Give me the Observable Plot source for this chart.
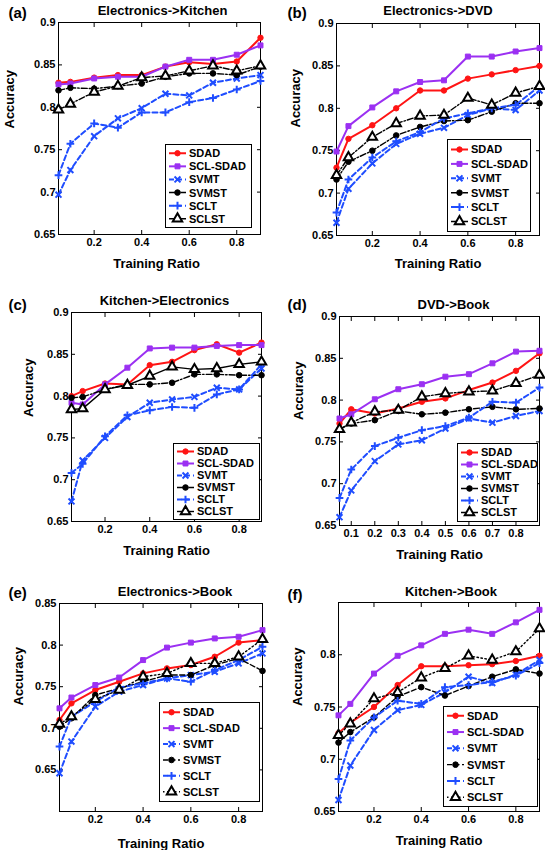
<!DOCTYPE html>
<html><head><meta charset="utf-8">
<script src="https://cdn.jsdelivr.net/npm/d3@7"></script>
<script src="https://cdn.jsdelivr.net/npm/@observablehq/plot@0.6"></script>
<style>
html,body{margin:0;padding:0;background:#fff;}
#chart{position:relative;width:545px;height:850px;overflow:hidden;background:#fff;font-family:"Liberation Sans",Arial,sans-serif;}
#chart > div.panel{position:absolute;}
</style></head>
<body><div id="chart"></div>
<script>
// ---------- data ----------
const ratio = [0.05, 0.1, 0.2, 0.3, 0.4, 0.5, 0.6, 0.7, 0.8, 0.9];
const seriesNames = ["SDAD", "SCL-SDAD", "SVMT", "SVMST", "SCLT", "SCLST"];
const titles = ["Electronics->Kitchen", "Electronics->DVD", "Kitchen->Electronics", "DVD->Book", "Electronics->Book", "Kitchen->Book"];
const panelTags = ["(a)", "(b)", "(c)", "(d)", "(e)", "(f)"];
const xTicksMost = [0.2, 0.4, 0.6, 0.8];
const xTicksD = [0.1, 0.2, 0.3, 0.4, 0.5, 0.6, 0.7, 0.8];
const yTicksMain = [0.65, 0.7, 0.75, 0.8, 0.85, 0.9];
const yTicksE = [0.65, 0.7, 0.75, 0.8, 0.85];
const yTicksF = [0.65, 0.7, 0.75, 0.8];
const yDomainMain = [0.65, 0.9];
const yDomainE = [0.6, 0.85];
const yDomainF = [0.65, 0.85];

// (a) Electronics->Kitchen
const ekSDAD  = [0.829, 0.830, 0.835, 0.838, 0.838, 0.848, 0.853, 0.851, 0.854, 0.882];
const ekSCL   = [0.827, 0.828, 0.834, 0.836, 0.836, 0.848, 0.856, 0.856, 0.862, 0.873];
const ekSVMT  = [0.697, 0.726, 0.766, 0.787, 0.799, 0.816, 0.814, 0.829, 0.834, 0.838];
const ekSVMST = [0.820, 0.823, 0.822, 0.825, 0.828, 0.836, 0.840, 0.840, 0.838, 0.848];
const ekSCLT  = [0.720, 0.757, 0.781, 0.776, 0.794, 0.794, 0.806, 0.811, 0.821, 0.831];
const ekSCLST = [0.797, 0.804, 0.818, 0.825, 0.835, 0.837, 0.843, 0.849, 0.843, 0.849];
// (b) Electronics->DVD
const edSDAD  = [0.730, 0.764, 0.780, 0.800, 0.821, 0.821, 0.835, 0.840, 0.845, 0.850];
const edSCL   = [0.749, 0.779, 0.801, 0.820, 0.831, 0.833, 0.861, 0.861, 0.867, 0.871];
const edSVMT  = [0.665, 0.705, 0.735, 0.758, 0.770, 0.777, 0.792, 0.800, 0.798, 0.821];
const edSVMST = [0.716, 0.737, 0.750, 0.768, 0.778, 0.785, 0.786, 0.796, 0.806, 0.806];
const edSCLT  = [0.677, 0.716, 0.742, 0.761, 0.772, 0.788, 0.794, 0.800, 0.804, 0.826];
const edSCLST = [0.721, 0.742, 0.766, 0.782, 0.791, 0.792, 0.812, 0.804, 0.818, 0.826];
// (c) Kitchen->Electronics
const keSDAD  = [0.800, 0.806, 0.815, 0.814, 0.837, 0.841, 0.855, 0.862, 0.852, 0.864];
const keSCL   = [0.792, 0.790, 0.814, 0.834, 0.857, 0.858, 0.858, 0.860, 0.861, 0.861];
const keSVMT  = [0.674, 0.723, 0.750, 0.775, 0.792, 0.796, 0.799, 0.810, 0.808, 0.833];
const keSVMST = [0.798, 0.799, 0.808, 0.814, 0.814, 0.816, 0.826, 0.826, 0.825, 0.825];
const keSCLT  = [0.708, 0.719, 0.752, 0.777, 0.783, 0.787, 0.786, 0.802, 0.808, 0.838];
const keSCLST = [0.784, 0.785, 0.808, 0.813, 0.824, 0.835, 0.832, 0.833, 0.838, 0.841];
// (d) DVD->Book
const dbSDAD  = [0.772, 0.789, 0.784, 0.790, 0.798, 0.802, 0.812, 0.821, 0.835, 0.856];
const dbSCL   = [0.778, 0.783, 0.801, 0.813, 0.819, 0.828, 0.831, 0.844, 0.858, 0.859];
const dbSVMT  = [0.660, 0.692, 0.727, 0.747, 0.752, 0.766, 0.778, 0.773, 0.781, 0.787];
const dbSVMST = [0.765, 0.772, 0.776, 0.787, 0.783, 0.785, 0.789, 0.792, 0.789, 0.790];
const dbSCLT  = [0.683, 0.717, 0.745, 0.755, 0.764, 0.769, 0.779, 0.798, 0.797, 0.815];
const dbSCLST = [0.765, 0.773, 0.786, 0.788, 0.804, 0.808, 0.810, 0.811, 0.820, 0.830];
// (e) Electronics->Book
const ebSDAD  = [0.710, 0.730, 0.746, 0.756, 0.766, 0.772, 0.776, 0.786, 0.803, 0.806];
const ebSCL   = [0.724, 0.737, 0.752, 0.761, 0.782, 0.797, 0.803, 0.808, 0.810, 0.818];
const ebSVMT  = [0.646, 0.684, 0.726, 0.744, 0.752, 0.760, 0.764, 0.768, 0.778, 0.790];
const ebSVMST = [0.702, 0.712, 0.740, 0.748, 0.756, 0.764, 0.764, 0.776, 0.784, 0.769];
const ebSCLT  = [0.678, 0.714, 0.732, 0.749, 0.754, 0.760, 0.756, 0.770, 0.782, 0.798];
const ebSCLST = [0.705, 0.714, 0.735, 0.746, 0.762, 0.766, 0.778, 0.778, 0.786, 0.807];
// (f) Kitchen->Book
const kbSDAD  = [0.725, 0.735, 0.750, 0.771, 0.789, 0.789, 0.790, 0.791, 0.794, 0.799];
const kbSCL   = [0.742, 0.753, 0.782, 0.799, 0.809, 0.820, 0.824, 0.820, 0.831, 0.843];
const kbSVMT  = [0.661, 0.694, 0.728, 0.747, 0.752, 0.764, 0.779, 0.773, 0.781, 0.795];
const kbSVMST = [0.716, 0.726, 0.740, 0.760, 0.769, 0.761, 0.770, 0.779, 0.786, 0.782];
const kbSCLT  = [0.681, 0.718, 0.740, 0.756, 0.753, 0.769, 0.771, 0.774, 0.780, 0.792];
const kbSCLST = [0.723, 0.734, 0.758, 0.764, 0.778, 0.787, 0.799, 0.795, 0.803, 0.825];

// ---------- styles ----------
const RED = "#ff1414", PURPLE = "#9b30f2", BLUE = "#1f4dff", BLACK = "#000";
const baseStyle = {
  "SDAD":     {color: RED,    lw: 2,   dash: null,          symbol: "circle",   r: 2.7, fill: RED,    sw: 1},
  "SCL-SDAD": {color: PURPLE, lw: 2,   dash: null,          symbol: "square",   r: 2.8, fill: PURPLE, sw: 1},
  "SVMT":     {color: BLUE,   lw: 2,   dash: "5,3",         symbol: "times",    r: 2.8, fill: "none", sw: 2},
  "SVMST":    {color: BLACK,  lw: 1.4, dash: "6,2,1.5,2",   symbol: "circle",   r: 2.8, fill: BLACK,  sw: 1},
  "SCLT":     {color: BLUE,   lw: 2,   dash: "5,3",         symbol: "plus",     r: 2.6, fill: "none", sw: 2},
  "SCLST":    {color: BLACK,  lw: 1.4, dash: "6,2,1.5,2",   symbol: "triangle", r: 3.5, fill: "#fff", sw: 2}
};
const d3Symbols = {circle: d3.symbolCircle, square: d3.symbolSquare, times: d3.symbolTimes, plus: d3.symbolPlus, triangle: d3.symbolTriangle};

const panels = [
  {i: 0, values: [ekSDAD, ekSCL, ekSVMT, ekSVMST, ekSCLT, ekSCLST], xticks: xTicksMost, ydomain: yDomainMain, yticks: yTicksMain,
   pos: {left: 0, top: 0, width: 272, height: 280, ml: 58, mr: 12, mt: 22, mb: 46},
   txt: {tdx: 3, tdy: -12, gdx: -50, gdy: -9, ydx: -49, ydy: 0, xdx: -3, xdy: 29},
   legend: {x: 165, y: 144, w: 86, h: 83, sp: 13.1}},
  {i: 1, values: [edSDAD, edSCL, edSVMT, edSVMST, edSCLT, edSCLST], xticks: xTicksMost, ydomain: yDomainMain, yticks: yTicksMain,
   pos: {left: 272, top: 0, width: 273, height: 280, ml: 64, mr: 6, mt: 23, mb: 45},
   txt: {tdx: 0, tdy: -13, gdx: -49, gdy: -10, ydx: -41, ydy: -2, xdx: 0, xdy: 28},
   legend: {x: 447, y: 139, w: 83, h: 92, sp: 14.4}},
  {i: 2, values: [keSDAD, keSCL, keSVMT, keSVMST, keSCLT, keSCLST], xticks: xTicksMost, ydomain: yDomainMain, yticks: yTicksMain,
   pos: {left: 0, top: 280, width: 272, height: 280, ml: 71, mr: 11, mt: 32, mb: 39},
   txt: {tdx: -2, tdy: -12, gdx: -63, gdy: -7, ydx: -43, ydy: 0, xdx: 0, xdy: 29},
   legend: {x: 173, y: 443, w: 86, h: 76, sp: 12}, solidSCLST: true},
  {i: 3, values: [dbSDAD, dbSCL, dbSVMT, dbSVMST, dbSCLT, dbSCLST], xticks: xTicksD, ydomain: yDomainMain, yticks: yTicksMain,
   pos: {left: 272, top: 280, width: 273, height: 280, ml: 67, mr: 6, mt: 36, mb: 35},
   txt: {tdx: 14, tdy: -12, gdx: -52, gdy: -11, ydx: -41, ydy: -1, xdx: 0, xdy: 29},
   legend: {x: 457, y: 443, w: 80, h: 78, sp: 12}},
  {i: 4, values: [ebSDAD, ebSCL, ebSVMT, ebSVMST, ebSCLT, ebSCLST], xticks: xTicksMost, ydomain: yDomainE, yticks: yTicksE,
   pos: {left: 0, top: 560, width: 272, height: 290, ml: 59, mr: 10, mt: 43, mb: 39},
   txt: {tdx: 14, tdy: -12, gdx: -51, gdy: -10, ydx: -41, ydy: -2, xdx: 0, xdy: 32},
   legend: {x: 159, y: 702, w: 100, h: 99, sp: 15.9}, dashedSVMST: true},
  {i: 5, values: [kbSDAD, kbSCL, kbSVMT, kbSVMST, kbSCLT, kbSCLST], xticks: xTicksMost, ydomain: yDomainF, yticks: yTicksF,
   pos: {left: 272, top: 560, width: 273, height: 290, ml: 66, mr: 6, mt: 42, mb: 39},
   txt: {tdx: 12, tdy: -11, gdx: -51, gdy: -7, ydx: -41, ydy: -1, xdx: 0, xdy: 29},
   legend: {x: 443, y: 706, w: 94, h: 100, sp: 16.3}, dashedSVMST: true}
];

function styleFor(p, s) {
  const st = Object.assign({}, baseStyle[s]);
  if (s === "SCLST" && p.solidSCLST) st.dash = null;
  if (s === "SVMST" && p.dashedSVMST) st.dash = "5,2.5";
  if (s === "SCLST" && p.dashedSVMST) st.dash = "1.5,2.5";
  return st;
}

const chart = document.getElementById("chart");
const fmt = d => String(d);

for (const p of panels) {
  const rows = [];
  seriesNames.forEach((s, k) => p.values[k].forEach((v, j) => rows.push({series: s, ratio: ratio[j], acc: v})));
  const marks = [
    Plot.frame({stroke: "#000", strokeWidth: 1}),
    Plot.axisX(p.xticks, {anchor: "bottom", tickSize: -4, fill: "none", label: null}),
    Plot.axisX(p.xticks, {anchor: "top", tickSize: -4, fill: "none", label: null}),
    Plot.axisY(p.yticks, {anchor: "left", tickSize: -4, fill: "none", label: null}),
    Plot.axisY(p.yticks, {anchor: "right", tickSize: -4, fill: "none", label: null}),
    Plot.axisX(p.xticks, {anchor: "bottom", tickSize: 0, tickPadding: 4, tickFormat: fmt, label: null, fontSize: 11, fontWeight: "bold"}),
    Plot.axisY(p.yticks, {anchor: "left", tickSize: 0, tickPadding: 3, tickFormat: fmt, label: null, fontSize: 11, fontWeight: "bold"}),
  ];
  seriesNames.forEach(s => {
    const st = styleFor(p, s);
    const d = rows.filter(r => r.series === s);
    marks.push(Plot.line(d, {x: "ratio", y: "acc", stroke: st.color, strokeWidth: st.lw, strokeDasharray: st.dash, strokeLinejoin: "round"}));
    marks.push(Plot.dot(d, {x: "ratio", y: "acc", symbol: st.symbol, r: st.r, fill: st.fill, stroke: st.color, strokeWidth: st.sw}));
  });
  const t = p.txt;
  marks.push(
    Plot.text([titles[p.i]], {frameAnchor: "top", dx: t.tdx, dy: t.tdy, fontSize: 13, fontWeight: "bold", lineAnchor: "middle"}),
    Plot.text([panelTags[p.i]], {frameAnchor: "top-left", textAnchor: "start", dx: t.gdx, dy: t.gdy, fontSize: 15, fontWeight: "bold", lineAnchor: "middle"}),
    Plot.text(["Accuracy"], {frameAnchor: "left", rotate: -90, dx: t.ydx, dy: t.ydy, fontSize: 13, fontWeight: "bold", lineAnchor: "middle"}),
    Plot.text(["Training Ratio"], {frameAnchor: "bottom", dx: t.xdx, dy: t.xdy, fontSize: 13, fontWeight: "bold", lineAnchor: "middle"})
  );
  const pos = p.pos;
  const svg = Plot.plot({
    width: pos.width, height: pos.height,
    marginLeft: pos.ml, marginRight: pos.mr, marginTop: pos.mt, marginBottom: pos.mb,
    x: {domain: [0.05, 0.9]},
    y: {domain: p.ydomain},
    style: {fontFamily: '"Liberation Sans", Arial, sans-serif', fontSize: "11px", fontWeight: "bold", color: "#000", background: "transparent", overflow: "visible"},
    marks
  });
  const div = document.createElement("div");
  div.className = "panel";
  div.style.left = pos.left + "px";
  div.style.top = pos.top + "px";
  div.appendChild(svg);
  chart.appendChild(div);

  const L = p.legend;
  const lg = d3.create("svg").attr("width", L.w + 1).attr("height", L.h + 1)
    .style("position", "absolute").style("left", L.x + "px").style("top", L.y + "px").style("overflow", "visible");
  lg.append("rect").attr("x", 0.5).attr("y", 0.5).attr("width", L.w).attr("height", L.h).attr("fill", "#fff").attr("stroke", "#000").attr("stroke-width", 1);
  const first = (L.h - 5 * L.sp) / 2 + 0.5;
  seriesNames.forEach((s, k) => {
    const st = styleFor(p, s);
    const cy = first + k * L.sp;
    lg.append("line").attr("x1", 4).attr("x2", 21).attr("y1", cy).attr("y2", cy)
      .attr("stroke", st.color).attr("stroke-width", st.lw).attr("stroke-dasharray", st.dash);
    lg.append("path").attr("d", d3.symbol(d3Symbols[st.symbol], Math.PI * st.r * st.r)())
      .attr("transform", `translate(12.5,${cy})`).attr("fill", st.fill).attr("stroke", st.color).attr("stroke-width", st.sw);
    lg.append("text").attr("x", 24).attr("y", cy).attr("dy", "0.36em").text(s)
      .attr("font-family", '"Liberation Sans", Arial, sans-serif').attr("font-size", 11).attr("font-weight", "bold").attr("fill", "#000");
  });
  chart.appendChild(lg.node());
}
</script>
</body></html>
